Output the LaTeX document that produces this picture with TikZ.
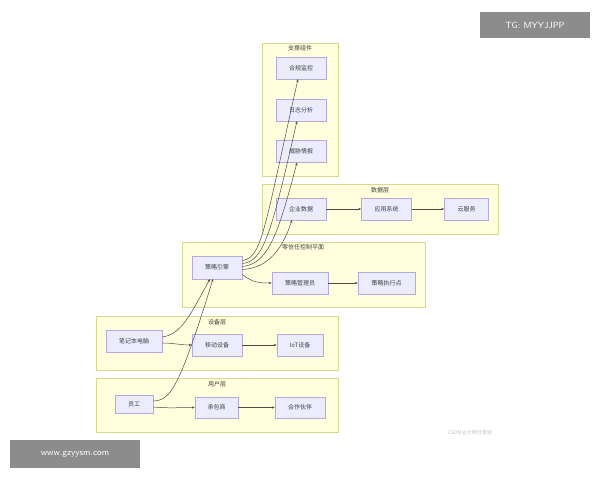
\documentclass[tikz,border=0pt]{standalone}
\usepackage{fontspec}
\setmainfont{Noto Sans CJK SC}
\usetikzlibrary{arrows.meta}
\definecolor{cf}{HTML}{FFFFDE}\definecolor{cb}{HTML}{D8D890}
\definecolor{nf}{HTML}{ECECFF}\definecolor{nb}{HTML}{B8A8E0}
\begin{document}
\begin{tikzpicture}[x=1pt,y=-1pt,
 cl/.style={draw=cb,fill=cf,line width=0.6pt},
 nd/.style={draw=nb,fill=nf,line width=0.6pt,font=\fontsize{6}{7}\selectfont,text=black!75},
 tt/.style={font=\fontsize{6}{7}\selectfont,text=black!75},
 ar/.style={draw=black!70,line width=0.5pt,-{Stealth[length=3pt,width=2.4pt]}}]
\useasboundingbox (0,0) rectangle (600,480);
\fill[white] (0,0) rectangle (600,480);
% clusters
\draw[cl] (262,43) rectangle (338,176); \node[tt] (t1) at (300,48) {支撑组件};
\draw[cl] (262,184) rectangle (498,234); \node[tt] (t2) at (380,190) {数据层};
\draw[cl] (182,242) rectangle (425,307); \node[tt] (t3) at (303,247) {零信任控制平面};
\draw[cl] (96,316) rectangle (338,370); \node[tt] (t4) at (217,322) {设备层};
\draw[cl] (96,378) rectangle (338,432); \node[tt] (t5) at (217,384) {用户层};
% nodes
\node[nd,minimum width=50pt,minimum height=22pt] (hg) at (301,68) {合规监控};
\node[nd,minimum width=50pt,minimum height=22pt] (rz) at (301,110) {日志分析};
\node[nd,minimum width=50pt,minimum height=22pt] (wx) at (301,151.5) {威胁情报};
\node[nd,minimum width=50pt,minimum height=22pt] (qy) at (301,209) {企业数据};
\node[nd,minimum width=50pt,minimum height=22pt] (yy) at (386.5,209) {应用系统};
\node[nd,minimum width=44pt,minimum height=22pt] (yf) at (466.5,209) {云服务};
\node[nd,minimum width=50pt,minimum height=23pt] (yq) at (217,267.5) {策略引擎};
\node[nd,minimum width=56pt,minimum height=22pt] (gl) at (300,283) {策略管理员};
\node[nd,minimum width=57pt,minimum height=22pt] (zx) at (386.5,283) {策略执行点};
\node[nd,minimum width=56pt,minimum height=22pt] (bj) at (134,341) {笔记本电脑};
\node[nd,minimum width=50pt,minimum height=22pt] (yd) at (217,345) {移动设备};
\node[nd,minimum width=46pt,minimum height=22pt] (iot) at (300,345) {IoT设备};
\node[nd,minimum width=38pt,minimum height=18pt] (yg) at (134,404) {员工};
\node[nd,minimum width=43pt,minimum height=21pt] (cb) at (216.5,407.5) {承包商};
\node[nd,minimum width=50pt,minimum height=21pt] (hz) at (300,407.5) {合作伙伴};
% edges
\draw[ar] ([yshift=-3pt]yg.east) to[out=-5,in=180] (cb.west);
\draw[ar] ([yshift=3pt]yg.east) .. controls (170,400) and (178,392) .. (213,279);
\draw[ar] (cb) -- (hz);
\draw[ar] ([yshift=-2pt]bj.east) to[out=0,in=180] (yd.west);
\draw[ar] ([yshift=4pt]bj.east) .. controls (182,334) and (190,315) .. (210,279);
\draw[ar] (yd) -- (iot);
\draw[ar] ([yshift=-7pt]yq.east) .. controls (252,282) and (258,283) .. (gl.west);
\draw[ar] (gl) -- (zx);
\draw[ar] (qy) -- (yy); \draw[ar] (yy) -- (yf);
\draw[ar] ([yshift=-2pt]yq.east) .. controls (268,268) and (282,250) .. (292,220);
\draw[ar] ([yshift=1pt]yq.east) .. controls (268,264) and (278,235) .. (297,162.5);
\draw[ar] ([yshift=4pt]yq.east) .. controls (264,262) and (272,230) .. (297,121);
\draw[ar] ([yshift=7pt]yq.east) .. controls (262,258) and (264,230) .. (298,79);
% watermarks
\fill[black!45] (480,12) rectangle (590,38);
\node[font=\fontsize{9}{10}\selectfont\sffamily,text=white] (w1) at (535,25) {TG: MYYJJPP};
\fill[black!45] (10,440) rectangle (140,468);
\node[font=\fontsize{9}{10}\selectfont\sffamily,text=white] (w2) at (75,454) {www.gzyysm.com};
\node[font=\fontsize{5}{6}\selectfont,text=black!25] (w3) at (470,433) {CSDN @大物分享谈};
\end{tikzpicture}
\end{document}
